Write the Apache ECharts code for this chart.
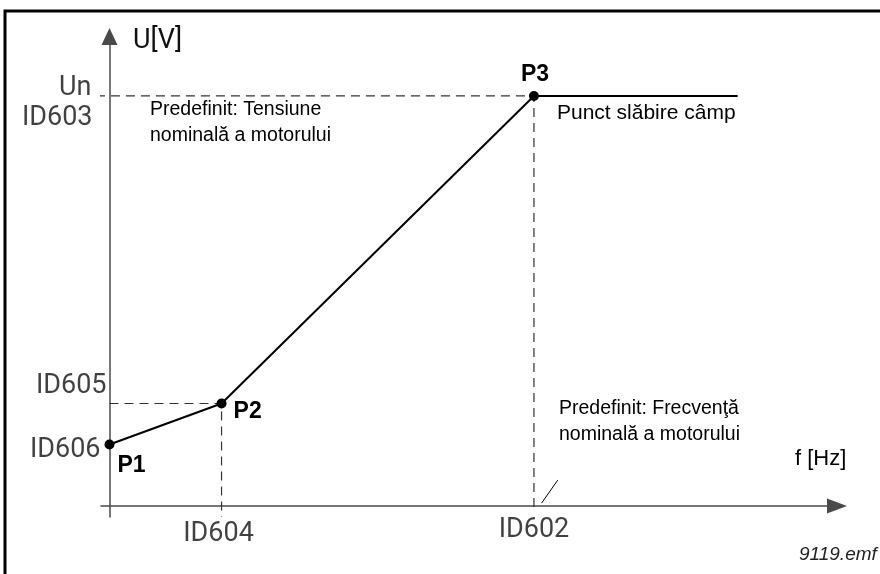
<!DOCTYPE html>
<html>
<head>
<meta charset="utf-8">
<script src="https://cdn.jsdelivr.net/npm/echarts@6/dist/echarts.min.js"></script>
<style>
  html, body { margin: 0; padding: 0; background: #fff; }
  #chart { width: 880px; height: 574px; }
</style>
</head>
<body>
<div id="chart"></div>
<script>
// U/f characteristic: breakpoints P1, P2, P3 and the flat field-weakening part
const pointNames = ['P1', 'P2', 'P3', ''];
const freq = [0, 13.2, 50, 74];       // f, arbitrary units (ID604 = 13.2, ID602 = 50)
const volt = [15, 25, 100, 100];      // U in % of Un (ID606, ID605, ID603)

// parameter labels on the frequency axis
const freqTicks = [13.2, 50];
const freqTickLabels = ['ID604', 'ID602'];

// parameter labels on the voltage axis
const voltTicks = [15, 25, 100, 100];
const voltTickLabels = ['ID606', 'ID605', 'Un', 'ID603'];

// small slanted break mark beside ID602
const breakMarkX = [50.9, 52.8];
const breakMarkY = [0.7, 6.3];

const chart = echarts.init(document.getElementById('chart'), null, { renderer: 'canvas' });

const idFont = 'Roboto, "DejaVu Sans", sans-serif';
const txtFont = '"Liberation Sans", Arial, sans-serif';

const curveData = freq.map((f, i) => {
  const item = { value: [f, volt[i]] };
  if (!pointNames[i]) item.symbol = 'none';
  return item;
});

// offsets for the P labels, relative to each point
const pLabelLayout = [
  { align: 'left', offset: [8, 21] },
  { align: 'left', offset: [12, 8] },
  { align: 'center', offset: [1, -21] }
];
curveData.forEach((item, i) => {
  if (!pointNames[i]) return;
  item.label = {
    show: true,
    position: 'inside',
    formatter: pointNames[i],
    align: pLabelLayout[i].align,
    verticalAlign: 'middle',
    offset: pLabelLayout[i].offset,
    fontFamily: txtFont,
    fontWeight: 'bold',
    fontSize: 23,
    color: '#000'
  };
});

const xLabelOffsets = [[-3, 28], [0, 24]];
const freqLabelData = freqTicks.map((f, i) => ({
  value: [f, 0],
  label: { formatter: freqTickLabels[i], align: 'center', offset: xLabelOffsets[i] }
}));

const yLabelOffsets = [[-9, 6], [-3, -17], [-18, -8], [-17, 22]];
const voltLabelData = voltTicks.map((v, i) => ({
  value: [0, v],
  label: { formatter: voltTickLabels[i], align: 'right', offset: yLabelOffsets[i] }
}));

// dashed guide lines from the breakpoints to both axes
const guideStartX = -1.6;
const guideEndBelow = [-1, -2.68];
const guides = [
  [[guideStartX, volt[2]], [freq[2], volt[2]], [freq[2], guideEndBelow[0]]],
  [[freq[0], volt[1]], [freq[1], volt[1]], [freq[1], guideEndBelow[1]]]
];
const dashStyle = { type: [9, 6], color: '#333', width: 1.2 };

const guideSeries = guides.map(g => ({
  type: 'line',
  data: g,
  symbol: 'none',
  silent: true,
  clip: false,
  lineStyle: dashStyle,
  z: 1
}));

const axisLineStyle = { color: '#4a4a4a', width: 1.5 };

const option = {
  animation: false,
  backgroundColor: '#fff',
  grid: { left: 101, right: 43, top: 36.5, bottom: 57 },
  xAxis: {
    type: 'value', min: -1, max: 85.7,
    axisLine: {
      onZero: true,
      lineStyle: axisLineStyle,
      symbol: ['none', 'triangle'],
      symbolSize: [15, 20]
    },
    axisTick: { show: false }, axisLabel: { show: false }, splitLine: { show: false }
  },
  yAxis: {
    type: 'value', min: -2.68, max: 114.5,
    axisLine: {
      onZero: true,
      lineStyle: axisLineStyle,
      symbol: ['none', 'triangle'],
      symbolSize: [16, 17]
    },
    axisTick: { show: false }, axisLabel: { show: false }, splitLine: { show: false }
  },
  series: guideSeries.concat([
    {
      type: 'line',
      data: curveData,
      lineStyle: { color: '#000', width: 2 },
      itemStyle: { color: '#000' },
      symbol: 'circle',
      symbolSize: 10,
      clip: false,
      z: 5
    },
    {
      type: 'line',
      data: breakMarkX.map((x, i) => [x, breakMarkY[i]]),
      symbol: 'none',
      lineStyle: { color: '#000', width: 1 },
      clip: false
    },
    {
      type: 'scatter',
      symbolSize: 0,
      clip: false,
      data: freqLabelData.concat(voltLabelData),
      label: {
        show: true,
        position: 'inside',
        verticalAlign: 'middle',
        fontFamily: idFont,
        fontSize: 27,
        color: '#111'
      }
    }
  ]),
  graphic: [
    // frame
    {
      type: 'polyline',
      shape: { points: [[5, 574], [5, 11], [880, 11]] },
      style: { stroke: '#000', lineWidth: 3, fill: null }
    },
    { type: 'text', left: 133, top: 28, style: { text: 'U[V]', font: '27px ' + idFont, fill: '#111' } },
    { type: 'text', left: 795, top: 448, style: { text: 'f [Hz]', font: '22px ' + txtFont, fill: '#000' } },
    {
      type: 'text', left: 150, top: 97,
      style: { text: 'Predefinit: Tensiune\nnominală a motorului', font: '19.5px ' + txtFont, lineHeight: 26, fill: '#000' }
    },
    { type: 'text', left: 557, top: 103, style: { text: 'Punct slăbire câmp', font: '21px ' + txtFont, fill: '#000' } },
    {
      type: 'text', left: 559, top: 396,
      style: { text: 'Predefinit: Frecvenţă\nnominală a motorului', font: '19.5px ' + txtFont, lineHeight: 26, fill: '#000' }
    },
    { type: 'text', left: 799, top: 545, style: { text: '9119.emf', font: 'italic 19px ' + txtFont, fill: '#222' } }
  ]
};

chart.setOption(option);
</script>
</body>
</html>
